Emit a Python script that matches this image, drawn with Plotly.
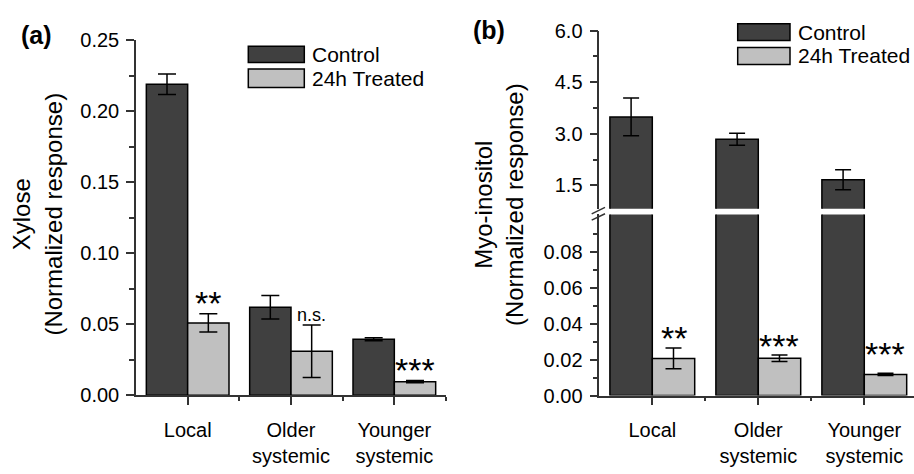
import plotly.graph_objects as go

# ---------------- data ----------------
categories = ["Local", "Older<br>systemic", "Younger<br>systemic"]
series_names = ["Control", "24h Treated"]

xylose_control = [0.219, 0.062, 0.0395]
xylose_control_err = [0.0072, 0.0082, 0.0011]
xylose_treated = [0.051, 0.031, 0.0096]
xylose_treated_err = [0.0065, 0.0185, 0.0008]
xylose_sig = ["**", "n.s.", "***"]

inositol_control = [3.49, 2.84, 1.66]
inositol_control_err = [0.55, 0.175, 0.29]
inositol_treated = [0.0207, 0.0208, 0.0118]
inositol_treated_err = [0.0058, 0.0018, 0.0006]
inositol_sig = ["**", "***", "***"]

xa_ticks = [0.0, 0.05, 0.10, 0.15, 0.20, 0.25]
xb_low_ticks = [0.0, 0.02, 0.04, 0.06, 0.08]
xb_up_ticks = [1.5, 3.0, 4.5, 6.0]

# ---------------- style ----------------
W, H = 914, 474
FONT = "Liberation Sans, Arial, Helvetica, sans-serif"
C_CTRL = "#404040"
C_TRT = "#c0c0c0"
AX = "#333333"


def px(x):
    return x / W


def py(y):
    return 1 - y / H


xpos = list(range(len(categories)))

fig = go.Figure()


def bar(y, err, color, offset, xa, ya, ew, show_err=True):
    return go.Bar(
        x=xpos, y=y, width=0.4, offset=offset,
        marker=dict(color=color, line=dict(color="black", width=1.5)),
        error_y=dict(type="data", array=err, visible=show_err,
                     color="black", thickness=1.5, width=ew),
        xaxis=xa, yaxis=ya, showlegend=False,
    )


# panel (a)
fig.add_trace(bar(xylose_control, xylose_control_err, C_CTRL, -0.4, "x", "y", 9))
fig.add_trace(bar(xylose_treated, xylose_treated_err, C_TRT, 0.0, "x", "y", 9))
# panel (b) lower
fig.add_trace(bar(inositol_control, inositol_control_err, C_CTRL, -0.4, "x2", "y2", 8, False))
fig.add_trace(bar(inositol_treated, inositol_treated_err, C_TRT, 0.0, "x2", "y2", 8))
# panel (b) upper
fig.add_trace(bar(inositol_control, inositol_control_err, C_CTRL, -0.4, "x3", "y3", 8))

tickfont = dict(family=FONT, size=20, color="black")
catfont = dict(family=FONT, size=20, color="black")

xcommon = dict(
    tickmode="array", tickvals=xpos, ticktext=categories,
    ticks="outside", ticklen=8, tickwidth=1.5, tickcolor=AX,
    minor=dict(tickmode="array", tickvals=[0.5, 1.5, 2.5], ticks="outside",
               ticklen=4, tickwidth=1.5, tickcolor=AX),
    showline=True, linecolor=AX, linewidth=1.5, ticklabelstandoff=8,
    showgrid=False, zeroline=False, tickfont=catfont,
)
ycommon = dict(
    ticks="outside", ticklen=8, tickwidth=1.5, tickcolor=AX,
    showline=True, linecolor=AX, linewidth=1.5, ticklabelstandoff=3,
    showgrid=False, zeroline=False, tickfont=tickfont,
)

fig.update_layout(
    width=W, height=H, margin=dict(l=0, r=0, t=0, b=0),
    paper_bgcolor="white", plot_bgcolor="white",
    barmode="overlay", showlegend=False,
    xaxis=dict(domain=[px(136), px(446)], range=[-0.5, 2.5], anchor="y", **xcommon),
    yaxis=dict(domain=[py(403), py(30.7)], range=[0, 0.25], anchor="x",
               tickmode="array", tickvals=xa_ticks, tickformat=".2f",
               minor=dict(tickmode="array", tickvals=[0.025, 0.075, 0.125, 0.175, 0.225],
                          ticks="outside", ticklen=5, tickwidth=1.5, tickcolor=AX),
               **ycommon),
    xaxis2=dict(domain=[px(599.3), 1.0], range=[-0.5, 2.469], anchor="y2", **xcommon),
    yaxis2=dict(domain=[py(403.3), py(213.3)], range=[0, 0.101], anchor="x2",
                tickmode="array", tickvals=xb_low_ticks, tickformat=".2f",
                minor=dict(tickmode="array", tickvals=[0.01, 0.03, 0.05, 0.07, 0.09],
                           ticks="outside", ticklen=5, tickwidth=1.5, tickcolor=AX),
                **ycommon),
    xaxis3=dict(domain=[px(599.3), 1.0], range=[-0.5, 2.469], anchor="y3",
                matches="x2", visible=False),
    yaxis3=dict(domain=[py(207.3), py(20.7)], range=[0.82, 6.0], anchor="x3",
                tickmode="array", tickvals=xb_up_ticks, tickformat=".1f",
                minor=dict(tickmode="array", tickvals=[2.25, 3.75, 5.25],
                           ticks="outside", ticklen=5, tickwidth=1.5, tickcolor=AX),
                **ycommon),
)

ann = []
# significance labels
a_shift = [-10, -2, -10]
for i in xpos:
    big = xylose_sig[i] != "n.s."
    ann.append(dict(x=i + 0.2, y=xylose_treated[i] + xylose_treated_err[i],
                    xref="x", yref="y", text=xylose_sig[i], showarrow=False,
                    xanchor="center", yanchor="bottom", yshift=a_shift[i],
                    font=dict(family=FONT, size=(34 if big else 18), color="black")))
b_shift = [-11, -12, -2]
for i in xpos:
    ann.append(dict(x=i + 0.2, y=inositol_treated[i] + inositol_treated_err[i],
                    xref="x2", yref="y2", text=inositol_sig[i], showarrow=False,
                    xanchor="center", yanchor="bottom", yshift=b_shift[i],
                    font=dict(family=FONT, size=34, color="black")))

# axis titles
ann.append(dict(x=px(37.5), y=py(213), xref="paper", yref="paper",
                xanchor="center", yanchor="middle",
                text="Xylose<br>(Normalized response)", textangle=-90, showarrow=False,
                font=dict(family=FONT, size=24, color="black")))
ann.append(dict(x=px(498.5), y=py(203), xref="paper", yref="paper",
                xanchor="center", yanchor="middle",
                text="Myo-inositol<br>(Normalized response)", textangle=-90, showarrow=False,
                font=dict(family=FONT, size=24, color="black")))
# panel labels
ann.append(dict(x=px(19), y=py(25), xref="paper", yref="paper",
                xanchor="left", yanchor="middle",
                text="<b>(a)</b>", showarrow=False,
                font=dict(family=FONT, size=25, color="black")))
ann.append(dict(x=px(471), y=py(20), xref="paper", yref="paper",
                xanchor="left", yanchor="middle",
                text="<b>(b)</b>", showarrow=False,
                font=dict(family=FONT, size=25, color="black")))

shapes = []
# legends
legends = [
    (248.3, 304.3, [(37, 54), (60.7, 80.3)], 310),
    (737.7, 790.0, [(13.3, 31), (38.3, 56)], 796),
]
for x0, x1, rows, tx in legends:
    for (y0, y1), name, col in zip(rows, series_names, [C_CTRL, C_TRT]):
        shapes.append(dict(type="rect", xref="paper", yref="paper",
                           x0=px(x0), x1=px(x1), y0=py(y1), y1=py(y0),
                           fillcolor=col, line=dict(color="black", width=1.5)))
        ann.append(dict(x=px(tx), y=py((y0 + y1) / 2), xref="paper", yref="paper",
                        xanchor="left", yanchor="middle", text=name, showarrow=False,
                        font=dict(family=FONT, size=21, color="black")))

# axis break marks
for dy in (0, 6.6):
    shapes.append(dict(type="line", xref="paper", yref="paper",
                       x0=px(591.7), y0=py(212.7 + dy), x1=px(605), y1=py(206 + dy),
                       line=dict(color=AX, width=1.5)))

fig.update_layout(annotations=ann, shapes=shapes)
fig.write_html("out.html")
